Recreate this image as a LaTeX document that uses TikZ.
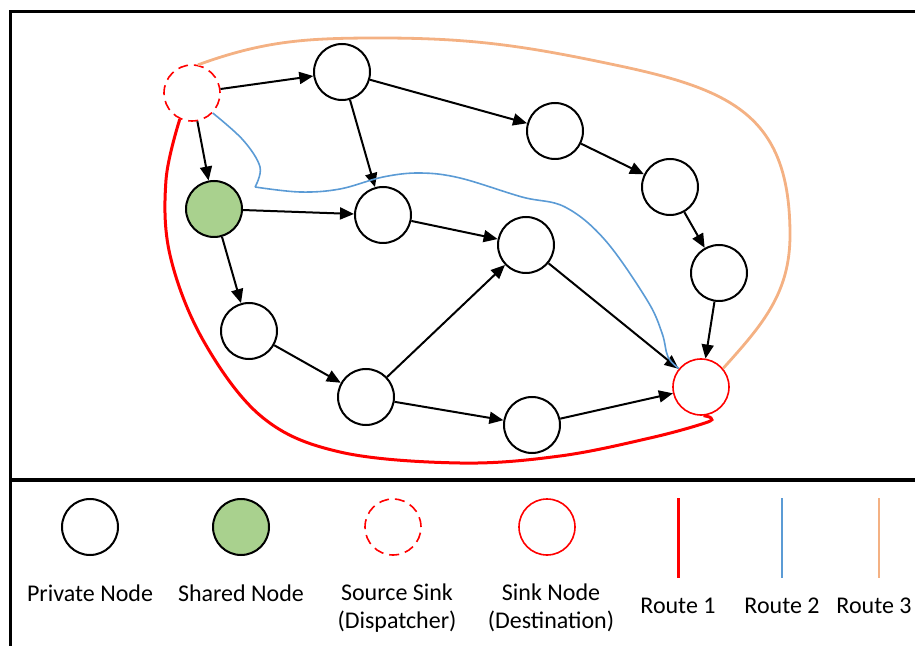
\documentclass[tikz,border=0pt]{standalone}
\usepackage{fontspec}
\setmainfont{Carlito}
\usetikzlibrary{arrows.meta,positioning}
\definecolor{routered}{RGB}{255,0,0}
\definecolor{routeblue}{RGB}{91,155,213}
\definecolor{routeorange}{RGB}{244,177,131}
\definecolor{sharegreen}{RGB}{169,209,142}
\tikzset{%
    >={Triangle[length=7pt,width=6pt]},
    place/.style={circle,draw=black,line width=1pt,fill=white,minimum size=28pt,inner sep=0pt},
    sharedplace/.style={place,fill=sharegreen},
    srcplace/.style={place,draw=routered,line width=0.8pt,dash pattern=on 5pt off 3pt},
    sinkplace/.style={place,draw=routered,line width=0.8pt},
    route1/.style={draw=routered,line width=1.5pt},
    route2/.style={draw=routeblue,line width=0.8pt},
    route3/.style={draw=routeorange,line width=1.4pt},
    frame/.style={line width=1.5pt},
    legend/.style={font=\fontsize{12}{14}\selectfont,align=center,inner sep=1pt}
}

\begin{document}
\begin{tikzpicture}[x=0.5pt,y=-0.5pt,->,node distance=13pt]
            \useasboundingbox (0,0) rectangle (915,646);
            \draw[-,frame] (10,646) -- (10,12) -- (915,12);
            \draw[-,line width=2pt] (10,480) -- (915,480);
            %%%%% graph
            \node [srcplace] (src) at (192,93) {};
            \node [place] (n1) at (342,72) {};
            \node [sharedplace] (n2) at (214,209) {};
            \node [place] (n3) at (383,215) {};
            \node [place] (n4) at (555,131) {};
            \node [place] (n5) at (670,187) {};
            \node [place] (n6) at (526,245) {};
            \node [place] (n7) at (719,273) {};
            \node [place] (n8) at (249,331) {};
            \node [place] (n9) at (366,397) {};
            \node [place] (n10) at (532,425) {};
            \node [sinkplace] (dst) at (701,387) {};
            \path[line width=1pt] (src) edge (n1) edge (n2)
            (n1) edge (n3) edge (n4)
            (n2) edge (n3) edge (n8)
            (n3) edge (n6)
            (n4) edge (n5)
            (n5) edge (n7)
            (n7) edge (dst)
            (n6) edge (dst)
            (n8) edge (n9)
            (n9) edge (n6) edge (n10)
            (n10) edge (dst);
            %%%%% routes
            \draw[-,route1] plot[smooth,tension=0.6] coordinates {(src.245) (166,180) (170,255) (203,340) (262,417) (340,452) (460,463) (560,456) (650,438) (705,423) (711,418) (dst.-85)};
            \draw[-,route2] plot[smooth,tension=0.6] coordinates {(src.-44) (243,140) (260,167) (255,187)}
            plot[smooth,tension=0.6] coordinates {(255,187) (300,192) (340,189) (383,177) (420,173) (460,178) (522,197) (565,207) (605,240) (647,300) (662,333) (668,357) (dst.140)};
            \coordinate (o1) at (380,38);
            \coordinate (o2) at (620,66);
            \coordinate (o3) at (790,235);
            \draw[-,route3] (src.78) to[out=20,in=180] (o1) to[out=0,in=168] (o2)
            to[out=-12,in=90,looseness=1.25] (o3) to[out=-90,in=48] (dst.40);
            %%%%% legend
            \node [place] (lg1) at (90,527) {};
            \node [sharedplace] (lg2) at (241,527) {};
            \node [srcplace] (lg3) at (393,527) {};
            \node [sinkplace] (lg4) at (547,527) {};
            \node [legend,below= of lg1,anchor=north] (t1) {Private Node};
            \node [legend,below= of lg2,anchor=north] (t2) {Shared Node};
            \node [legend,below= of lg3,anchor=north,xshift=2pt] (t3) {Source Sink\\(Dispatcher)};
            \node [legend,below= of lg4,anchor=north,xshift=2pt] (t4) {Sink Node\\(Destination)};
            \coordinate (r1a) at (678,498); \coordinate (r1b) at (678,578);
            \coordinate (r2a) at (782,498); \coordinate (r2b) at (782,578);
            \coordinate (r3a) at (879,498); \coordinate (r3b) at (879,578);
            \draw[-,route1] (r1a) -- (r1b);
            \draw[-,route2] (r2a) -- (r2b);
            \draw[-,route3] (r3a) -- (r3b);
            \node [legend,below=9pt of r1b] (t5) {Route 1};
            \node [legend,below=9pt of r2b] (t6) {Route 2};
            \node [legend,below=9pt of r3b,xshift=-2.5pt] (t7) {Route 3};
            \end{tikzpicture}
\end{document}
